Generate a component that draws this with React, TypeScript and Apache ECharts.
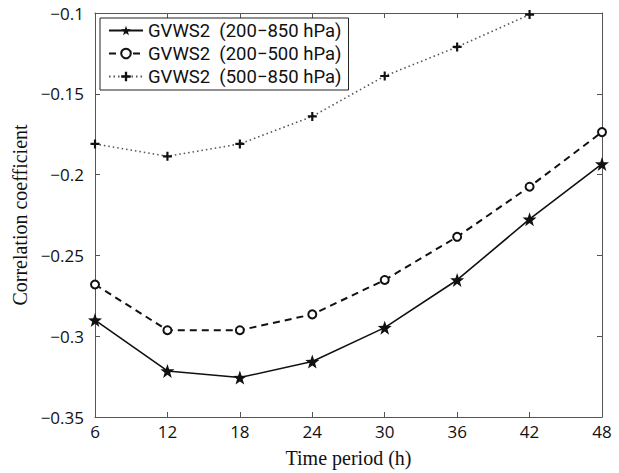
import React, { useEffect, useRef } from "react";
import * as echarts from "echarts";

const hours = [6, 12, 18, 24, 30, 36, 42, 48];
const s200_850 = [-0.290, -0.3215, -0.3256, -0.3157, -0.2947, -0.2652, -0.2276, -0.1934];
const s200_500 = [-0.268, -0.2963, -0.2963, -0.2865, -0.2652, -0.2385, -0.2075, -0.1737];
const s500_850 = [-0.181, -0.1887, -0.181, -0.164, -0.139, -0.121, -0.101, null];
const seriesNames = [
  "GVWS2\u00a0 (200\u2212850 hPa)",
  "GVWS2\u00a0 (200\u2212500 hPa)",
  "GVWS2\u00a0 (500\u2212850 hPa)",
];

const STAR =
  "path://M0,-10 L2.35,-3.24 L9.51,-3.09 L3.8,1.24 L5.88,8.09 L0,4 L-5.88,8.09 L-3.8,1.24 L-9.51,-3.09 L-2.35,-3.24 Z";
const PLUS =
  "path://M-1.2,-5 L1.2,-5 L1.2,-1.2 L5,-1.2 L5,1.2 L1.2,1.2 L1.2,5 L-1.2,5 L-1.2,1.2 L-5,1.2 L-5,-1.2 L-1.2,-1.2 Z";

const fmtY = (v: number) => {
  let s = v.toFixed(2);
  s = s.replace(/0+$/, "").replace(/\.$/, "");
  return s.replace("-", "\u2212");
};

export default function App() {
  const ref = useRef<HTMLDivElement>(null);
  useEffect(() => {
    document.body.style.margin = "0";
    if (!ref.current) return;
    const chart = echarts.init(ref.current, undefined, { renderer: "svg" });
    const axisLine = { show: true, lineStyle: { color: "#555", width: 1 } };
    const tick = { show: true, inside: true, length: 5, lineStyle: { color: "#555" } };
    const tickFont = { fontFamily: "Open Sans", fontSize: 17, color: "#111" };
    const titleFont = { fontFamily: "Liberation Serif", fontSize: 20, color: "#111" };
    const mk = (vals: (number | null)[]) => vals.map((v, i) => [hours[i], v]);
    chart.setOption({
      animation: false,
      backgroundColor: "#fff",
      grid: { left: 95, right: 17, top: 13, bottom: 53 },
      legend: {
        orient: "vertical",
        left: 100,
        top: 18,
        padding: [3, 7, 4, 8],
        itemGap: 4,
        itemWidth: 34,
        itemHeight: 12,
        borderColor: "#222",
        borderWidth: 1,
        borderRadius: 0,
        backgroundColor: "#fff",
        textStyle: { fontFamily: "Roboto", fontSize: 18.5, color: "#111", lineHeight: 18 },
        data: seriesNames,
      },
      xAxis: [
        {
          type: "value",
          min: 6,
          max: 48,
          interval: 6,
          position: "bottom",
          axisLine,
          axisTick: tick,
          splitLine: { show: false },
          axisLabel: { ...tickFont, margin: 6 },
          name: "Time period (h)",
          nameLocation: "middle",
          nameGap: 31,
          nameTextStyle: titleFont,
        },
        {
          type: "value",
          min: 6,
          max: 48,
          interval: 6,
          position: "top",
          axisLine,
          axisTick: tick,
          splitLine: { show: false },
          axisLabel: { show: false },
        },
      ],
      yAxis: [
        {
          type: "value",
          min: -0.35,
          max: -0.1,
          interval: 0.05,
          position: "left",
          axisLine,
          axisTick: tick,
          splitLine: { show: false },
          axisLabel: { ...tickFont, margin: 11, formatter: fmtY },
          name: "Correlation coefficient",
          nameLocation: "middle",
          nameGap: 61,
          nameRotate: 90,
          nameTextStyle: titleFont,
        },
        {
          type: "value",
          min: -0.35,
          max: -0.1,
          interval: 0.05,
          position: "right",
          axisLine,
          axisTick: tick,
          splitLine: { show: false },
          axisLabel: { show: false },
        },
      ],
      series: [
        {
          name: seriesNames[0],
          type: "line",
          data: mk(s200_850),
          symbol: STAR,
          symbolSize: 14,
          lineStyle: { color: "#111", width: 1.6, type: "solid" },
          itemStyle: { color: "#111" },
        },
        {
          name: seriesNames[1],
          type: "line",
          data: mk(s200_500),
          symbol: "emptyCircle",
          symbolSize: 8,
          lineStyle: { color: "#111", width: 2, type: [7, 5] },
          itemStyle: { color: "#111", borderWidth: 1.6, borderColor: "#111" },
        },
        {
          name: seriesNames[2],
          type: "line",
          data: mk(s500_850),
          symbol: PLUS,
          symbolSize: 9,
          lineStyle: { color: "#555", width: 1.6, type: [1.5, 3] },
          itemStyle: { color: "#111" },
        },
      ],
    });
    return () => chart.dispose();
  }, []);
  return <div ref={ref} style={{ width: 619, height: 473 }} />;
}
